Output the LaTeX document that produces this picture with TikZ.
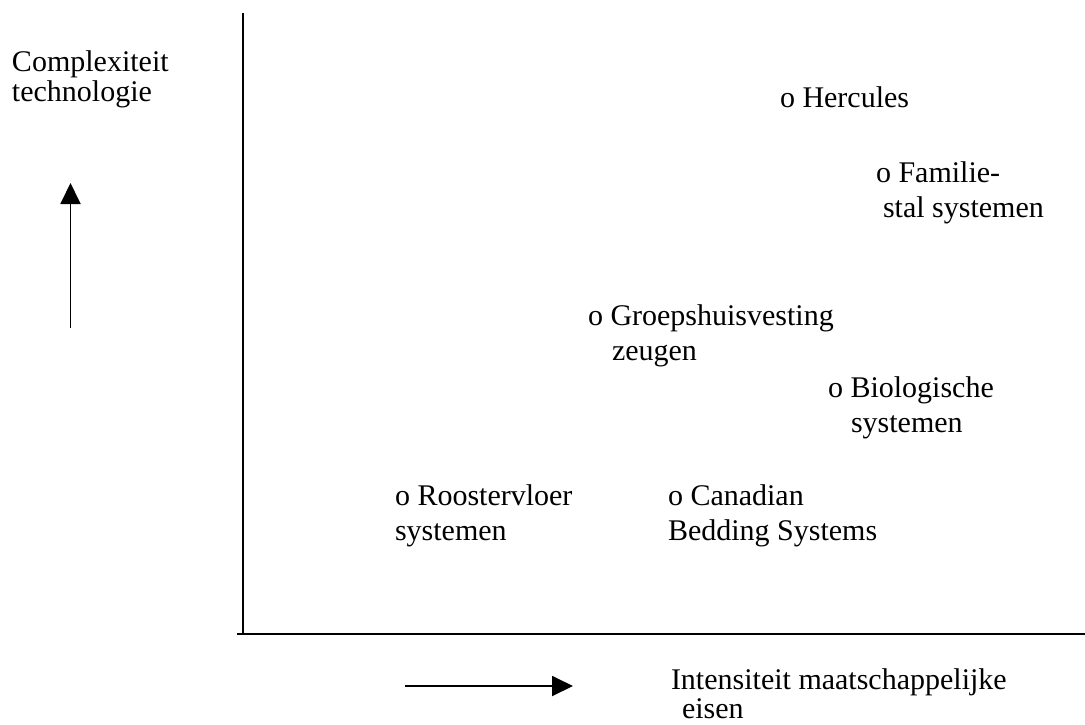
\documentclass[tikz,border=0pt]{standalone}
\usepackage{fontspec}
\setmainfont{Liberation Serif}
\usetikzlibrary{arrows.meta}
\begin{document}
\begin{tikzpicture}[x=1pt,y=-1pt,
  lbl/.style={anchor=base west,inner sep=0pt,outer sep=0pt,
              text height=20pt,text depth=6pt,
              font=\fontsize{30}{35}\selectfont},
  axis/.style={line width=1.9pt},
  dirarrow/.style={line width=1.9pt,-{Triangle[length=21pt,width=20pt]}}]
\useasboundingbox (0,0) rectangle (1085,724);

% axes
\coordinate (ytop) at (243,13);
\coordinate (origin) at (243,634);
\coordinate (xleft) at (237,634);
\coordinate (xright) at (1085,634);
\draw[axis] (ytop) -- (origin);
\draw[axis] (xleft) -- (xright);

% direction arrows
\coordinate (upfrom) at (70.5,328);
\coordinate (upto) at (70.5,183);
\draw[dirarrow] (upfrom) -- (upto);
\coordinate (rtfrom) at (405,686);
\coordinate (rtto) at (573,686);
\draw[dirarrow] (rtfrom) -- (rtto);

% axis titles
\node[lbl] (ytitle1) at (12,71) {Complexiteit};
\node[lbl] (ytitle2) at (12,101) {technologie};
\node[lbl] (xtitle1) at (671,689) {Intensiteit maatschappelijke};
\node[lbl,text depth=0pt] (xtitle2) at (682,718) {eisen};

% systems
\node[lbl] (herc) at (780,107) {o Hercules};
\node[lbl] (fam1) at (876,182) {o Familie-};
\node[lbl] (fam2) at (883,217) {stal systemen};
\node[lbl] (groep1) at (588,325) {o Groepshuisvesting};
\node[lbl] (groep2) at (612,360) {zeugen};
\node[lbl] (bio1) at (828,397) {o Biologische};
\node[lbl] (bio2) at (851,432) {systemen};
\node[lbl] (roos1) at (395,505) {o Roostervloer};
\node[lbl] (roos2) at (395,540) {systemen};
\node[lbl] (can1) at (668,505) {o Canadian};
\node[lbl] (can2) at (668,540) {Bedding Systems};
\end{tikzpicture}
\end{document}
